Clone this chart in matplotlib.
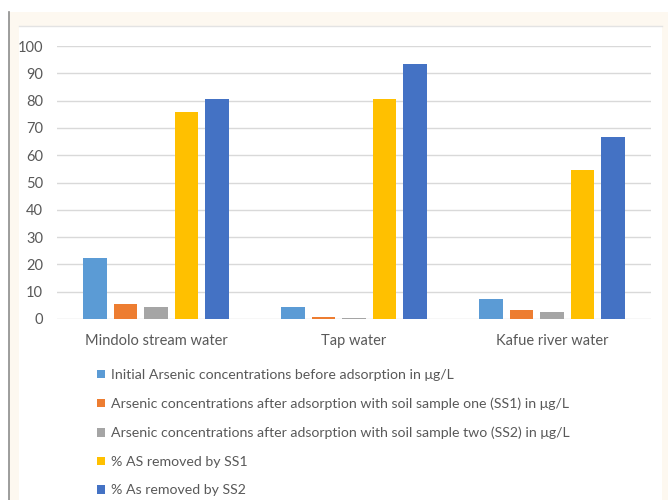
import numpy as np
import matplotlib
matplotlib.use("Agg")
import matplotlib.pyplot as plt
from matplotlib.patches import Rectangle, Patch
from matplotlib.lines import Line2D

# data
categories = ["Mindolo stream water", "Tap water", "Kafue river water"]
initial_as = [22.3, 4.5, 7.4]
after_ss1 = [5.5, 0.8, 3.3]
after_ss2 = [4.4, 0.3, 2.4]
pct_ss1 = [75.8, 80.5, 54.5]
pct_ss2 = [80.5, 93.4, 66.5]

series_labels = [
    "Initial Arsenic concentrations before adsorption in μg/L",
    "Arsenic concentrations after adsorption with soil sample one (SS1) in μg/L",
    "Arsenic concentrations after adsorption with soil sample two (SS2) in μg/L",
    "% AS removed by SS1",
    "% As removed by SS2",
]
series_values = [initial_as, after_ss1, after_ss2, pct_ss1, pct_ss2]
colors = ["#5B9BD5", "#ED7D31", "#A5A5A5", "#FFC000", "#4472C4"]

plt.rcParams["font.family"] = ["Lato", "DejaVu Sans"]
text_col = "#595959"
grid_col = "#d9d9d9"

W, H = 668, 500
fig = plt.figure(figsize=(W / 100, H / 100), dpi=100)
fig.patch.set_facecolor("white")

def fx(px):
    return px / W

def fy(py):
    return 1 - py / H

# cream page background, border and white chart area
fig.add_artist(Rectangle((fx(9), 0), fx(W - 9), fy(12), transform=fig.transFigure,
                         facecolor="#FDF8F0", edgecolor="none", zorder=0))
fig.add_artist(Line2D([fx(9), fx(9)], [0, fy(12)], transform=fig.transFigure,
                      color="#8c8c8c", lw=1.2, zorder=1))
fig.add_artist(Rectangle((fx(19), 0), fx(662 - 19), fy(26), transform=fig.transFigure,
                         facecolor="white", edgecolor="none", zorder=1))
fig.add_artist(Line2D([fx(19), fx(662)], [fy(26), fy(26)], transform=fig.transFigure,
                      color="#e3e3e3", lw=1.0, zorder=2))

ax = fig.add_axes([fx(57), fy(319), fx(651 - 57), (319 - 46) / H])
ax.set_facecolor("none")
ax.set_zorder(3)

x = np.arange(len(categories))
step = 0.154
width = 0.121
for i, (vals, col, lab) in enumerate(zip(series_values, colors, series_labels)):
    ax.bar(x + (i - 2) * step, vals, width=width, color=col, label=lab, zorder=3)

ax.set_xlim(-0.5, 2.5)
ax.set_ylim(0, 100)
ax.set_yticks(np.arange(0, 101, 10))
ax.set_xticks(x)
ax.set_xticklabels(categories)
ax.yaxis.grid(True, color=grid_col, lw=1.0, zorder=0)
ax.set_axisbelow(True)
for s in ax.spines.values():
    s.set_visible(False)
ax.tick_params(axis="both", length=0, colors=text_col, labelsize=10.5)
ax.tick_params(axis="x", pad=11)
ax.tick_params(axis="y", pad=10)

handles = [Patch(facecolor=c, edgecolor="none") for c in colors]
fig.legend(handles, series_labels, loc="upper left",
           bbox_to_anchor=(fx(97), fy(369)), frameon=False,
           fontsize=10.2, labelcolor=text_col,
           handlelength=0.55, handleheight=0.55, handletextpad=0.45,
           labelspacing=1.17, borderaxespad=0, borderpad=0)

fig.savefig("out.png", dpi=100, facecolor=fig.get_facecolor())
